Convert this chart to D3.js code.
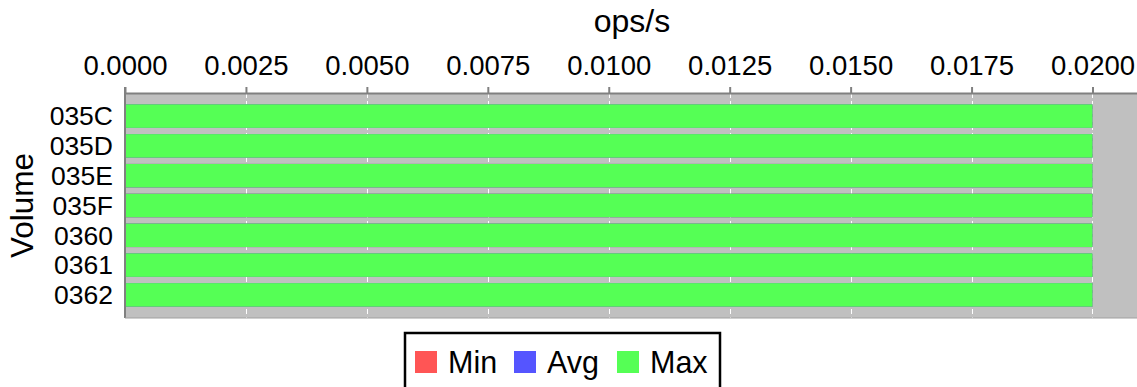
<!DOCTYPE html>
<html><head><meta charset="utf-8">
<script src="https://cdn.jsdelivr.net/npm/d3@7"></script>
<style>body{margin:0;background:#fff}svg{display:block;font-family:"Liberation Sans",Arial,sans-serif}</style>
</head><body><svg id="c" width="1137" height="387"></svg>
<script>
const categories = ["035C","035D","035E","035F","0360","0361","0362"];
const minValues = [0.02,0.02,0.02,0.02,0.02,0.02,0.02];
const avgValues = [0.02,0.02,0.02,0.02,0.02,0.02,0.02];
const maxValues = [0.02,0.02,0.02,0.02,0.02,0.02,0.02];
const tickValues = [0,0.0025,0.005,0.0075,0.01,0.0125,0.015,0.0175,0.02];
const seriesNames = ["Min","Avg","Max"];
const seriesColors = ["#ff5555","#5555ff","#55ff55"];

const svg = d3.select("#c");
const L = 125, T = 93, R = 1137, B = 318;
const x = d3.scaleLinear().domain([0, 0.02092]).range([L, R]);
const y = d3.scaleBand().domain(categories).range([T, B]).paddingInner(0.21).paddingOuter(0.38);

svg.append("rect").attr("x", L).attr("y", T).attr("width", R - L).attr("height", B - T).attr("fill", "#c0c0c0");

// grid
svg.append("g").selectAll("line").data(tickValues.slice(1)).join("line")
  .attr("x1", d => Math.round(x(d)) + 0.5).attr("x2", d => Math.round(x(d)) + 0.5)
  .attr("y1", T).attr("y2", B)
  .attr("stroke", "#ffffff").attr("stroke-width", 1).attr("stroke-dasharray", "5,3");

const series = [minValues, avgValues, maxValues];
series.forEach((vals, si) => {
  svg.append("g").selectAll("rect").data(categories).join("rect")
    .attr("x", L).attr("y", d => y(d))
    .attr("width", (d, i) => x(vals[i]) - L)
    .attr("height", y.bandwidth())
    .attr("fill", seriesColors[si]);
});

// top axis
const xa = svg.append("g").attr("transform", `translate(0,${T})`)
  .call(d3.axisTop(x).tickValues(tickValues).tickFormat(d3.format(".4f")).tickSize(6).tickSizeOuter(0));
xa.select(".domain").attr("stroke", "#808080").attr("stroke-width", 2);
xa.selectAll(".tick line").attr("stroke", "#808080").attr("stroke-width", 2);
xa.selectAll(".tick text").attr("font-size", 27.5).attr("fill", "#000")
  .attr("font-family", "Liberation Sans, Arial, sans-serif").attr("y", -18).attr("dy", "0");

// left axis
svg.append("line").attr("x1", L).attr("x2", L).attr("y1", T - 6).attr("y2", B)
  .attr("stroke", "#808080").attr("stroke-width", 2);
svg.append("line").attr("x1", L).attr("x2", R).attr("y1", B).attr("y2", B)
  .attr("stroke", "#a0a0a0").attr("stroke-width", 1);
svg.append("g").selectAll("text").data(categories).join("text")
  .attr("x", L - 12).attr("y", d => y(d) + y.bandwidth() / 2)
  .attr("dy", "0.35em").attr("text-anchor", "end").attr("font-size", 26.5).text(d => d);

svg.append("text").attr("x", 632).attr("y", 32).attr("text-anchor", "middle")
  .attr("font-size", 32).text("ops/s");
svg.append("text").attr("transform", `translate(33,${(T + B) / 2}) rotate(-90)`)
  .attr("text-anchor", "middle").attr("font-size", 31.5).text("Volume");

// legend
const lg = svg.append("g");
lg.append("rect").attr("x", 405).attr("y", 333).attr("width", 315).attr("height", 60)
  .attr("fill", "#fff").attr("stroke", "#000").attr("stroke-width", 2.5);
const lx = [415, 514, 617];
seriesNames.forEach((n, i) => {
  lg.append("rect").attr("x", lx[i]).attr("y", 351).attr("width", 22).attr("height", 22).attr("fill", seriesColors[i]);
  lg.append("text").attr("x", lx[i] + 33).attr("y", 373).attr("font-size", 30.5).text(n);
});
</script></body></html>
